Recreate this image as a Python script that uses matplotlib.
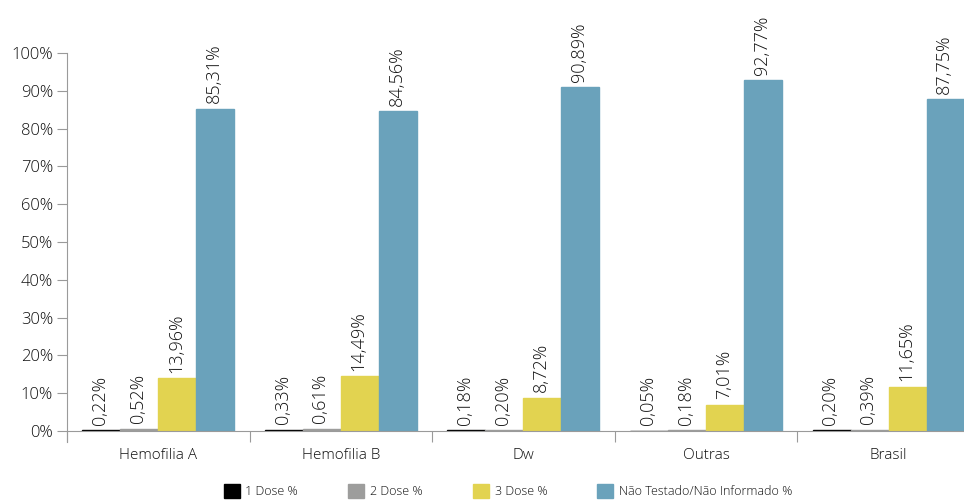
import numpy as np
import matplotlib.pyplot as plt
from matplotlib.ticker import FixedLocator, PercentFormatter

plt.rcParams['font.family'] = ['Open Sans', 'DejaVu Sans']
plt.rcParams['font.weight'] = 'light'

categories = ['Hemofilia A', 'Hemofilia B', 'Dw', 'Outras', 'Brasil']
series_names = ['1 Dose %', '2 Dose %', '3 Dose %', 'Não Testado/Não Informado %']
dose1 = [0.22, 0.33, 0.18, 0.05, 0.20]
dose2 = [0.52, 0.61, 0.20, 0.18, 0.39]
dose3 = [13.96, 14.49, 8.72, 7.01, 11.65]
nao_testado = [85.31, 84.56, 90.89, 92.77, 87.75]

colors = ['#000000', '#9d9d9c', '#e2d350', '#6aa2bb']
text_color = '#111111'
axis_color = '#9a9a9a'

fig = plt.figure(figsize=(9.64, 5.0), dpi=100)
ax = fig.add_axes([0.0695, 0.138, 0.947, 0.756])

x = np.arange(len(categories))
bar_w = 0.208
series = [dose1, dose2, dose3, nao_testado]
for i, (vals, name, col) in enumerate(zip(series, series_names, colors)):
    pos = x + (i - 1.5) * bar_w
    ax.bar(pos, vals, width=bar_w, color=col, edgecolor=col, linewidth=1.0, label=name)
    for px, v in zip(pos, vals):
        ax.annotate(f'{v:.2f}'.replace('.', ',') + '%', (px, v),
                    xytext=(-1, 4), textcoords='offset points',
                    rotation=90, ha='center', va='bottom',
                    fontsize=13, color=text_color, annotation_clip=False)

ax.set_xlim(-0.5, len(categories) - 0.5)
ax.set_ylim(0, 100)
ax.set_yticks(np.arange(0, 101, 10))
ax.yaxis.set_major_formatter(PercentFormatter(decimals=0))

ax.set_xticks(x)
ax.set_xticklabels(categories)
ax.xaxis.set_minor_locator(FixedLocator(np.arange(-0.5, len(categories), 1.0)))
ax.tick_params(axis='x', which='major', length=0, pad=12, labelsize=11, labelcolor=text_color)
ax.tick_params(axis='x', which='minor', length=8, width=0.8, color=axis_color)
ax.tick_params(axis='y', length=7, width=0.8, color=axis_color, pad=3,
               labelsize=12, labelcolor=text_color)

for side in ['top', 'right']:
    ax.spines[side].set_visible(False)
for side in ['left', 'bottom']:
    ax.spines[side].set_color(axis_color)
    ax.spines[side].set_linewidth(0.8)
ax.spines['left'].set_bounds(-3, 100)

fig.legend(loc='center', bbox_to_anchor=(0.527, 0.018), ncol=4, frameon=False,
           fontsize=9, handlelength=1.3, handleheight=1.3, columnspacing=4.0,
           handletextpad=0.45, labelcolor=text_color)

fig.savefig('out.png', dpi=100)
